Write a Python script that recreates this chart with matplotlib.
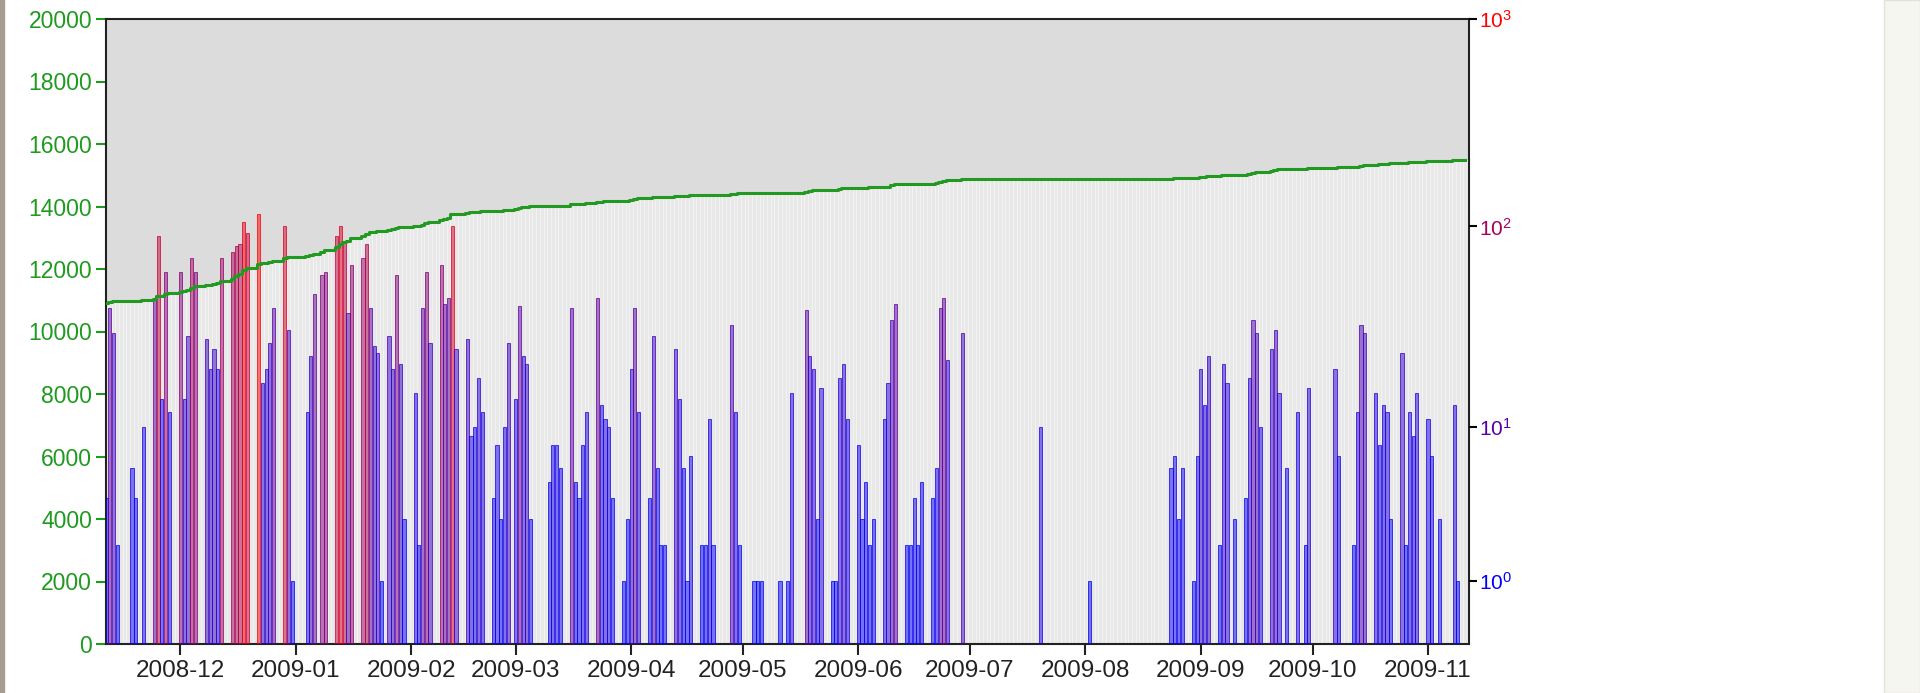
import numpy as np
import pandas as pd
import matplotlib
matplotlib.use("Agg")
import matplotlib.pyplot as plt
import matplotlib.dates as mdates
from matplotlib.patches import Rectangle
from matplotlib.ticker import NullLocator, FixedLocator

plt.rcParams['font.family'] = ['Liberation Sans', 'DejaVu Sans']
plt.rcParams['mathtext.fontset'] = 'custom'
plt.rcParams['mathtext.rm'] = 'Liberation Sans'

""" Data (read off the picture) """
start_date = "2008-11-11"
n_days = 366
total_before = 10900          # cumulative total before the first day

# day offset from start_date -> daily count
active_days = [0, 1, 2, 3, 7, 8, 10, 13, 14, 15, 16, 17, 20, 21, 22, 23, 24,
               27, 28, 29, 30, 31, 34, 35, 36, 37, 38, 41, 42, 43, 44, 45,
               48, 49, 50, 54, 55, 56, 58, 59, 62, 63, 64, 65, 66, 69, 70,
               71, 72, 73, 74, 76, 77, 78, 79, 80, 83, 84, 85, 86, 87, 90,
               91, 92, 93, 94, 97, 98, 99, 100, 101, 104, 105, 106, 107, 108,
               110, 111, 112, 113, 114, 119, 120, 121, 122, 125, 126, 127,
               128, 129, 132, 133, 134, 135, 136, 139, 140, 141, 142, 143,
               146, 147, 148, 149, 150, 153, 154, 155, 156, 157, 160, 161,
               162, 163, 168, 169, 170, 174, 175, 176, 181, 183, 184, 188,
               189, 190, 191, 192, 195, 196, 197, 198, 199, 202, 203, 204,
               205, 206, 209, 210, 211, 212, 215, 216, 217, 218, 219, 222,
               223, 224, 225, 226, 230, 251, 264, 286, 287, 288, 289, 292,
               293, 294, 295, 296, 299, 300, 301, 303, 306, 307, 308, 309,
               310, 313, 314, 315, 317, 320, 322, 323, 330, 331, 335, 336,
               337, 338, 341, 342, 343, 344, 345, 348, 349, 350, 351, 352,
               355, 356, 358, 362, 363]
daily_counts = [4, 40, 30, 2, 6, 4, 10, 45, 90, 14, 60, 12, 60, 14, 29, 70, 60,
                28, 20, 25, 20, 70, 75, 80, 82, 105, 93, 115, 17, 20, 27, 40,
                100, 31, 1, 12, 23, 47, 58, 60, 90, 100, 85, 38, 65, 70, 82,
                40, 26, 24, 1, 29, 20, 58, 21, 3, 15, 2, 40, 60, 27, 65,
                42, 45, 100, 25, 28, 9, 10, 18, 12, 4, 8, 3, 10, 27,
                14, 41, 23, 21, 3, 5, 8, 8, 6, 40, 5, 4,
                8, 12, 45, 13, 11, 10, 4, 1, 3, 20, 40, 12,
                4, 29, 6, 2, 2, 25, 14, 6, 1, 7, 2, 2,
                11, 2, 33, 12, 2, 1, 1, 1, 1, 1, 15, 39,
                23, 20, 3, 16, 1, 1, 18, 21, 11, 8, 3, 5,
                2, 3, 11, 17, 35, 42, 2, 2, 4, 2, 5, 4,
                6, 40, 45, 22, 30, 10, 1, 6, 7, 3, 6, 1,
                7, 20, 13, 23, 2, 21, 17, 3, 4, 18, 35, 30,
                10, 25, 31, 15, 6, 12, 2, 16, 20, 7, 2, 12,
                33, 30, 15, 8, 13, 12, 3, 24, 2, 12, 9, 15,
                11, 7, 3, 13, 1]

right_ticks = [1, 10, 100, 1000]

""" Build daily series """
dates = pd.date_range(start_date, periods=n_days, freq="D")
counts = np.zeros(n_days)
counts[np.array(active_days)] = daily_counts
cumulative = total_before + np.cumsum(counts)

green = "#1f9a1f"

fig = plt.figure(figsize=(19.2, 6.93), dpi=100)
ax = fig.add_axes([106 / 1920, 49 / 693, 1363 / 1920, 625 / 693])
ax.set_facecolor("#dcdcdc")

# light grey bars up to the running total
ax.bar(dates, cumulative, width=1.0, color="#e8e8e8", edgecolor="#f6f6f6",
       linewidth=0.5, zorder=1)
ax.set_ylim(0, 20000)
ax.set_yticks(np.arange(0, 20001, 2000))
ax.tick_params(axis="y", colors=green, labelsize=16.5, length=7, width=1.5, pad=3)
ax.tick_params(axis="x", colors="#222222", labelsize=17.5, length=8, width=1.5)
ax.xaxis.set_major_locator(mdates.MonthLocator())
ax.xaxis.set_major_formatter(mdates.DateFormatter("%Y-%m"))
ax.set_xlim(dates[0], dates[0] + pd.Timedelta(days=366))
for s in ax.spines.values():
    s.set_color("#222222")
    s.set_linewidth(1.5)

# daily counts on a log(1+x) axis
ax2 = ax.twinx()
vmax = counts.max()
mask = counts > 0
t = counts[mask] / vmax
face = [(ti, 0.0, 1 - ti, 0.5) for ti in t]
edge = [(ti, 0.0, 1 - ti, 0.75) for ti in t]
ax2.bar(dates[mask], counts[mask], width=0.85, color=face, edgecolor=edge,
        linewidth=0.7)
ax2.set_yscale("function", functions=(lambda v: np.log10(np.asarray(v) + 1),
                                      lambda y: 10 ** np.asarray(y) - 1))
ax2.set_ylim(0, 1000)
ax2.yaxis.set_major_locator(FixedLocator(right_ticks))
ax2.yaxis.set_minor_locator(NullLocator())
ax2.set_yticklabels([r"$\mathregular{10^{%d}}$" % i for i in range(4)])
ax2.tick_params(axis="y", labelsize=15, length=6, width=1.5, pad=1)
for i, tk in enumerate(ax2.yaxis.get_major_ticks()):
    c = (i / 3, 0.0, 1 - i / 3)
    tk.tick2line.set_color(c)
    tk.label2.set_color(c)
for s in ax2.spines.values():
    s.set_visible(False)

# running total line on top
ax3 = ax.twinx()
ax3.plot(dates, cumulative, drawstyle="steps-mid", color="#229a22", lw=2.2)
ax3.set_ylim(0, 20000)
ax3.axis("off")

# window frame bits
fig.patches.append(Rectangle((0, 0), 4 / 1920, 1, transform=fig.transFigure,
                             color="#a59d8d", zorder=0))
fig.patches.append(Rectangle((1884 / 1920, 0), 36 / 1920, 1,
                             transform=fig.transFigure, facecolor="#f6f6f0",
                             edgecolor="#e2e2da", linewidth=1, zorder=0))

fig.savefig("out.png", dpi=100)
